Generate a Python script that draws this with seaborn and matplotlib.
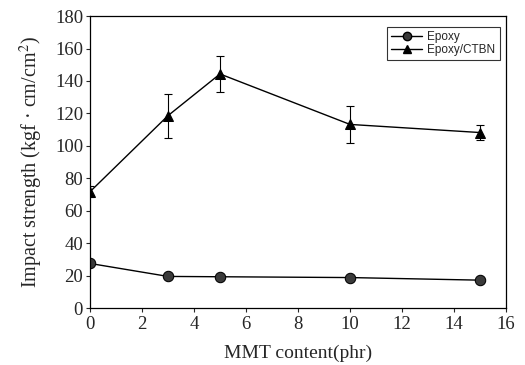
import matplotlib
matplotlib.use("Agg")
import matplotlib.pyplot as plt
import seaborn as sns
import pandas as pd
from matplotlib.lines import Line2D

mmt = [0, 3, 5, 10, 15]
epoxy = [27.5, 19.5, 19.3, 18.8, 17.2]
epoxy_ctbn = [71.7, 118.6, 144.3, 113.2, 108.2]
ctbn_err = [3.5, 13.5, 11.0, 11.5, 4.7]
series_names = ["Epoxy", "Epoxy/CTBN"]

sns.set_style("white")
plt.rcParams["font.family"] = ["Liberation Serif", "DejaVu Serif"]
plt.rcParams["mathtext.fontset"] = "stix"

df = pd.DataFrame({
    "MMT": mmt * 2,
    "value": epoxy + epoxy_ctbn,
    "series": [series_names[0]] * len(mmt) + [series_names[1]] * len(mmt),
})

fig = plt.figure(figsize=(5.25, 3.65), dpi=100)
ax = fig.add_axes([0.1714, 0.156, 0.7924, 0.8])

sns.lineplot(data=df, x="MMT", y="value", hue="series", style="series",
             markers={"Epoxy": "o", "Epoxy/CTBN": "^"}, dashes=False,
             palette={"Epoxy": "black", "Epoxy/CTBN": "black"},
             linewidth=1.0, markersize=7.5, ax=ax, legend=False)

for line, fc in zip(ax.lines, ["#3a3a3a", "black"]):
    line.set_markerfacecolor(fc)
    line.set_markeredgecolor("black")

ax.errorbar(mmt, epoxy_ctbn, yerr=ctbn_err, fmt="none", ecolor="black",
            elinewidth=0.8, capsize=3, capthick=0.8)

ax.set_xlim(0, 16)
ax.set_ylim(0, 180)
ax.set_xticks(range(0, 17, 2))
ax.set_yticks(range(0, 181, 20))
ax.tick_params(axis="x", labelsize=13.5, direction="out", length=3,
               width=0.8, pad=3, bottom=True)
ax.tick_params(axis="y", labelsize=13.5, direction="out", length=3,
               width=0.8, pad=2, left=True)
for s in ax.spines.values():
    s.set_linewidth(0.9)
    s.set_color("black")

ax.set_xlabel("MMT content(phr)", fontsize=14, labelpad=8)
ax.set_ylabel("Impact strength (kgf · cm/cm$^2$)", fontsize=14.5, labelpad=7)

handles = [
    Line2D([], [], color="black", marker="o", markerfacecolor="#3a3a3a",
           markersize=6, linewidth=1.0),
    Line2D([], [], color="black", marker="^", markerfacecolor="black",
           markersize=6, linewidth=1.0),
]
leg = ax.legend(handles, series_names, loc="upper right",
                bbox_to_anchor=(0.985, 0.962), frameon=True, fancybox=False,
                prop={"family": "Liberation Sans", "size": 8.5},
                handlelength=2.6, borderpad=0.35, labelspacing=0.05,
                handletextpad=0.45, borderaxespad=0)
leg.get_frame().set_edgecolor("black")
leg.get_frame().set_linewidth(0.8)

fig.savefig("out.png", dpi=100)
